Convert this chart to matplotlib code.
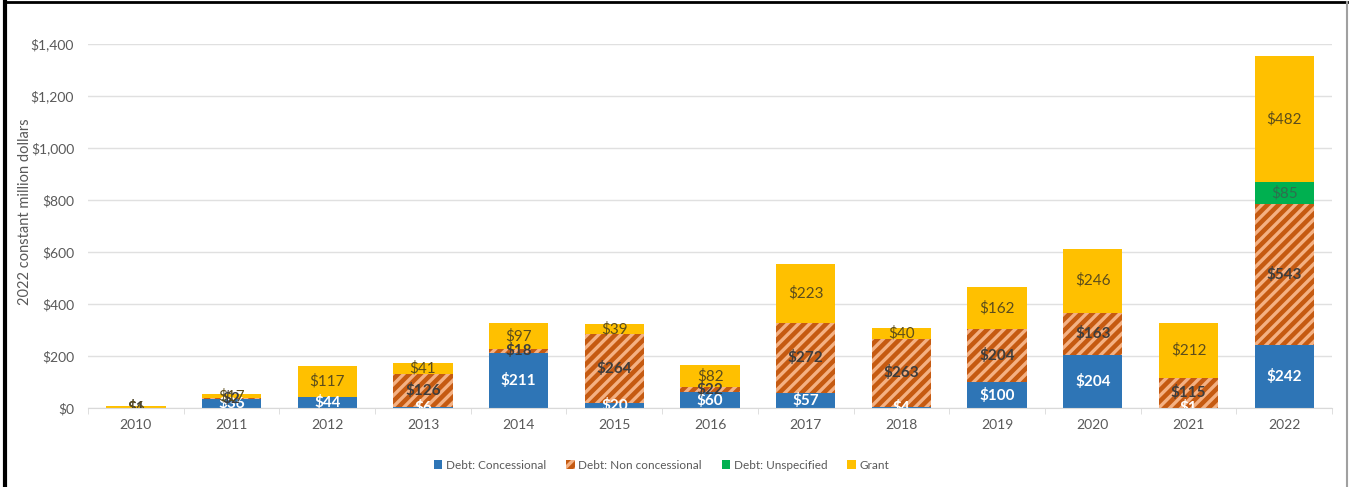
import matplotlib.pyplot as plt
import matplotlib.patches as mpatches
import numpy as np

years = ["2010", "2011", "2012", "2013", "2014", "2015", "2016",
         "2017", "2018", "2019", "2020", "2021", "2022"]
concessional = [0, 36, 44, 6, 211, 20, 60, 57, 4, 100, 204, 1, 242]
non_concessional = [1, 2, 0, 126, 18, 264, 22, 272, 263, 204, 163, 115, 543]
unspecified = [0, 0, 0, 0, 0, 0, 0, 0, 0, 0, 0, 0, 85]
grant = [6, 17, 117, 41, 97, 39, 82, 223, 40, 162, 246, 212, 482]

series_names = ["Debt: Concessional", "Debt: Non concessional",
                "Debt: Unspecified", "Grant"]
y_ticks = [0, 200, 400, 600, 800, 1000, 1200, 1400]

plt.rcParams["font.family"] = ["Lato", "DejaVu Sans"]
plt.rcParams["hatch.linewidth"] = 2.4

fig = plt.figure(figsize=(13.5, 4.87), dpi=100)
ax = fig.add_axes([0.0652, 0.162, 0.9215, 0.748])

x = np.arange(len(years))
width = 0.62
series = [concessional, non_concessional, unspecified, grant]
colors = ["#2E75B6", "#C55A11", "#00B050", "#FFC000"]
label_colors = ["white", "#3d3d3d", "#2f6e4e", "#5c4d1c"]

bottom = np.zeros(len(years))
for vals, name, col, lcol in zip(series, series_names, colors, label_colors):
    vals = np.array(vals, dtype=float)
    if name == "Debt: Non concessional":
        ax.bar(x, vals, width, bottom=bottom, color=col, edgecolor="#F4B183",
               hatch="///", linewidth=0, zorder=2)
    else:
        ax.bar(x, vals, width, bottom=bottom, color=col, linewidth=0, zorder=2)
    for xi, v, b in zip(x, vals, bottom):
        if v > 0:
            ax.text(xi, b + v / 2, f"${int(v)}", ha="center", va="center",
                    fontsize=11, color=lcol,
                    fontweight="bold" if lcol in ("white", "#3d3d3d") else "normal",
                    clip_on=True, zorder=3)
    bottom += vals

ax.set_xlim(-0.5, len(years) - 0.5)
ax.set_ylim(0, 1400)
ax.set_yticks(y_ticks)
ax.set_yticklabels([f"${v:,}" for v in y_ticks], fontsize=10, color="#595959")
ax.set_xticks(x)
ax.set_xticklabels(years, fontsize=10, color="#595959")
ax.tick_params(axis="y", length=0, pad=10)
ax.tick_params(axis="x", length=0, pad=8)
# small category separator ticks on the x axis
ax.set_xticks(np.arange(-0.5, len(years), 1.0), minor=True)
ax.tick_params(axis="x", which="minor", length=4, color="#D9D9D9")

ax.grid(axis="y", color="#E0E0E0", linewidth=1, zorder=0)
ax.set_axisbelow(True)
for s in ["top", "right", "left"]:
    ax.spines[s].set_visible(False)
ax.spines["bottom"].set_color("#D9D9D9")

ax.set_ylabel("2022 constant million dollars", fontsize=10.5, color="#595959")
ax.yaxis.set_label_coords(-0.045, 0.54)

handles = []
for name, col in zip(series_names, colors):
    if name == "Debt: Non concessional":
        handles.append(mpatches.Patch(facecolor=col, edgecolor="#F4B183",
                                      hatch="///", linewidth=0, label=name))
    else:
        handles.append(mpatches.Patch(facecolor=col, linewidth=0, label=name))
fig.legend(handles=handles, loc="center", bbox_to_anchor=(0.49, 0.045),
           ncol=4, frameon=False, fontsize=8.5, handlelength=0.7,
           handleheight=0.7, handletextpad=0.3, columnspacing=1.7,
           labelcolor="#595959")

# frame around the picture
fig.add_artist(plt.Line2D([0.004, 0.004], [0, 0.995], color="black", lw=3,
                          transform=fig.transFigure))
fig.add_artist(plt.Line2D([0.004, 0.998], [0.995, 0.995], color="black", lw=2,
                          transform=fig.transFigure))
fig.add_artist(plt.Line2D([0.998, 0.998], [0, 0.995], color="#a0a0a0", lw=1.5,
                          transform=fig.transFigure))

fig.savefig("out.png", dpi=100)
